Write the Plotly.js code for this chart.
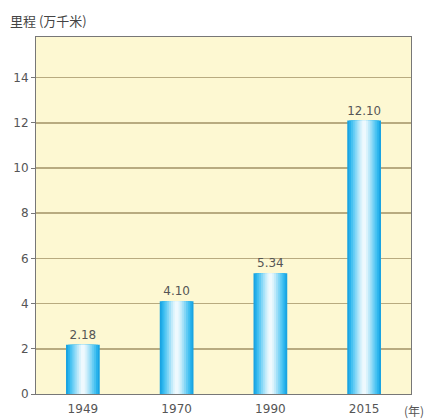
<!DOCTYPE html>
<html><head><meta charset="utf-8">
<script src="https://cdn.plot.ly/plotly-3.0.1.min.js"></script>
<style>html,body{margin:0;padding:0;background:#fff}#c{width:429px;height:420px}</style>
</head><body><div id="c"></div>
<script>
const years = ['1949', '1970', '1990', '2015'];
const mileage = [2.18, 4.10, 5.34, 12.10];
const labels = ['2.18', '4.10', '5.34', '12.10'];
const yTicks = [0, 2, 4, 6, 8, 10, 12, 14];

// layered bars to imitate the horizontal light-to-dark gradient
const layers = [
  {w: 0.36, c: '#1aa4e2'},
  {w: 0.32, c: '#2ab3ec'},
  {w: 0.28, c: '#45c1f1'},
  {w: 0.24, c: '#62cbf4'},
  {w: 0.20, c: '#82d6f6'},
  {w: 0.16, c: '#a2e0f8'},
  {w: 0.12, c: '#c0eafa'},
  {w: 0.08, c: '#dbf3fc'},
  {w: 0.04, c: '#eef9fe'}
];
const traces = layers.map((l, i) => ({
  type: 'bar', x: years, y: mileage, width: l.w,
  marker: {color: l.c, line: {width: 0}},
  hoverinfo: 'skip', showlegend: false,
  text: i === 0 ? labels : undefined,
  textposition: i === 0 ? 'outside' : 'none',
  textfont: {family: 'DejaVu Sans, sans-serif', size: 12, color: '#555'},
  cliponaxis: false
}));

const layout = {
  width: 429, height: 420,
  margin: {l: 36, r: 18, t: 37, b: 26},
  paper_bgcolor: '#ffffff', plot_bgcolor: '#fdf8d2',
  barmode: 'overlay',
  xaxis: {type: 'category', range: [-0.5, 3.5], showgrid: false,
    tickfont: {family: 'DejaVu Sans, sans-serif', size: 12, color: '#555'},
    ticklabelstandoff: 4,
    showline: true, linecolor: '#777', linewidth: 1, mirror: true, ticks: '', ticklen: 0},
  yaxis: {range: [0, 15.8], tickvals: yTicks, ticktext: yTicks.map(String),
    tickfont: {family: 'DejaVu Sans, sans-serif', size: 12, color: '#555'},
    showgrid: true, gridcolor: '#b8ab80', gridwidth: 1.5,
    zeroline: false, showline: true, linecolor: '#777', linewidth: 1, mirror: true,
    ticks: 'outside', ticklen: 4, tickcolor: '#777'},
  annotations: [
    {text: '里程 (万千米)', xref: 'paper', yref: 'paper', x: -0.075, y: 1.015,
     xanchor: 'left', yanchor: 'bottom', showarrow: false,
     font: {family: 'Noto Sans CJK SC, sans-serif', size: 13, color: '#444'}},
    {text: '(年)', xref: 'paper', yref: 'paper', x: 1.04, y: -0.045,
     xanchor: 'right', yanchor: 'middle', showarrow: false,
     font: {family: 'Noto Sans CJK SC, sans-serif', size: 12, color: '#555'}}
  ]
};
Plotly.newPlot('c', traces, layout, {displayModeBar: false, staticPlot: true});
</script></body></html>
